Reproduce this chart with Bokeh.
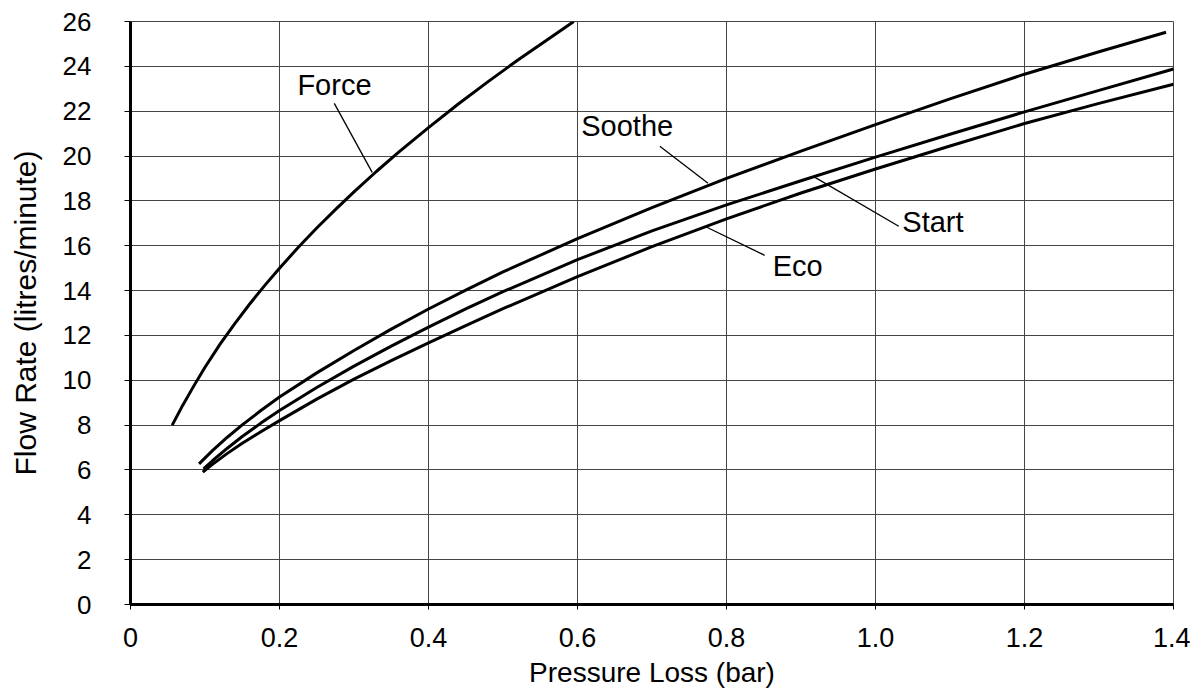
from bokeh.plotting import figure
from bokeh.models import Range1d, FixedTicker, ColumnDataSource
from bokeh.core.properties import value
from bokeh.embed import file_html
from bokeh.resources import INLINE

# ---- data ----
force_x = [0.056, 0.070, 0.085, 0.100, 0.120, 0.140, 0.160, 0.180, 0.200, 0.225, 0.250,
           0.275, 0.300, 0.330, 0.360, 0.400, 0.440, 0.480, 0.520, 0.560, 0.595]
force_y = [8.0, 8.88, 9.75, 10.58, 11.6, 12.53, 13.4, 14.22, 15.0, 15.92, 16.79,
           17.61, 18.4, 19.31, 20.17, 21.27, 22.32, 23.32, 24.28, 25.2, 26.0]

soothe_x = [0.092, 0.11, 0.13, 0.15, 0.175, 0.2, 0.25, 0.3, 0.35, 0.4, 0.45, 0.5,
            0.6, 0.7, 0.8, 0.9, 1.0, 1.1, 1.2, 1.3, 1.39]
soothe_y = [6.27, 6.86, 7.46, 8.01, 8.65, 9.25, 10.33, 11.33, 12.28, 13.18, 14.02, 14.83,
            16.32, 17.7, 19.0, 20.22, 21.4, 22.55, 23.65, 24.65, 25.52]

start_x = [0.098, 0.11, 0.13, 0.15, 0.175, 0.2, 0.25, 0.3, 0.35, 0.4, 0.45, 0.5,
           0.6, 0.7, 0.8, 0.9, 1.0, 1.1, 1.2, 1.3, 1.4]
start_y = [6.05, 6.41, 6.97, 7.49, 8.09, 8.65, 9.68, 10.63, 11.52, 12.37, 13.18, 13.95,
           15.38, 16.66, 17.82, 18.9, 19.95, 20.97, 21.97, 22.93, 23.88]

eco_x = [0.097, 0.11, 0.13, 0.15, 0.175, 0.2, 0.25, 0.3, 0.35, 0.4, 0.45, 0.5,
         0.6, 0.7, 0.8, 0.9, 1.0, 1.1, 1.2, 1.3, 1.4]
eco_y = [5.9, 6.25, 6.74, 7.19, 7.7, 8.2, 9.16, 10.05, 10.88, 11.67, 12.44, 13.19,
         14.62, 15.96, 17.2, 18.35, 19.42, 20.45, 21.45, 22.35, 23.2]

series_names = ["Force", "Soothe", "Start", "Eco"]

x_ticks = [0, 0.2, 0.4, 0.6, 0.8, 1.0, 1.2, 1.4]
x_tick_labels = ["0", "0.2", "0.4", "0.6", "0.8", "1.0", "1.2", "1.4"]
y_ticks = [0, 2, 4, 6, 8, 10, 12, 14, 16, 18, 20, 22, 24, 26]

x_title = "Pressure Loss (bar)"
y_title = "Flow Rate (litres/minute)"

# ---- annotation layout (label centre-left anchor and leader line, in data units) ----
label_pos_x = [0.224, 0.605, 1.036, 0.862]
label_pos_y = [23.15, 21.32, 17.06, 15.08]
leader_x0 = [0.2735, 0.7105, 1.0312, 0.8512]
leader_y0 = [22.35, 20.44, 16.87, 15.57]
leader_x1 = [0.3244, 0.7752, 0.9182, 0.7708]
leader_y1 = [19.27, 18.79, 19.06, 16.87]

FONT = "Liberation Sans"

p = figure(
    width=1190, height=690,
    x_range=Range1d(0, 1.4), y_range=Range1d(0, 26),
    output_backend="svg", toolbar_location=None,
    min_border_left=130, min_border_right=17, min_border_top=21, min_border_bottom=0,
    background_fill_color="white", border_fill_color="white",
)

p.outline_line_color = "#444444"
p.outline_line_width = 1

# axes
p.xaxis.ticker = FixedTicker(ticks=x_ticks)
p.xaxis.major_label_overrides = {t: l for t, l in zip(x_ticks, x_tick_labels)}
p.yaxis.ticker = FixedTicker(ticks=y_ticks)
p.xgrid.ticker = FixedTicker(ticks=x_ticks)
p.ygrid.ticker = FixedTicker(ticks=y_ticks)

for ax in (p.xaxis, p.yaxis):
    ax.axis_line_width = 3
    ax.axis_line_color = "black"
    ax.major_tick_line_color = "black"
    ax.major_tick_line_width = 1
    ax.major_tick_in = 0
    ax.minor_tick_line_color = None
    ax.major_label_text_font = FONT
    ax.major_label_text_color = "black"
    ax.axis_label_text_font = FONT
    ax.axis_label_text_font_style = "normal"
    ax.axis_label_text_color = "black"

p.xaxis.major_tick_out = 5
p.xaxis.major_label_standoff = 18
p.xaxis.major_label_text_font_size = "27px"
p.xaxis.axis_label = x_title
p.xaxis.axis_label_text_font_size = "28px"
p.xaxis.axis_label_standoff = 7

p.yaxis.major_tick_out = 6
p.yaxis.major_label_standoff = 33
p.yaxis.major_label_text_font_size = "26px"
p.yaxis.axis_label = y_title
p.yaxis.axis_label_text_font_size = "30px"
p.yaxis.axis_label_standoff = 18

for g in (p.xgrid, p.ygrid):
    g.grid_line_color = "#444444"
    g.grid_line_width = 1

# curves
for xs, ys in [(force_x, force_y), (soothe_x, soothe_y), (start_x, start_y), (eco_x, eco_y)]:
    p.line(xs, ys, line_color="black", line_width=3, line_join="round")

# annotations
ann = ColumnDataSource(dict(
    name=series_names, lx=label_pos_x, ly=label_pos_y,
    x0=leader_x0, y0=leader_y0, x1=leader_x1, y1=leader_y1,
))
p.segment(x0="x0", y0="y0", x1="x1", y1="y1", source=ann, line_color="black", line_width=1.3)
p.text(x="lx", y="ly", text="name", source=ann,
       text_font=value(FONT), text_font_size="29px", text_color="black",
       text_baseline="middle", text_align="left")

open("out.html", "w").write(file_html(p, INLINE))
